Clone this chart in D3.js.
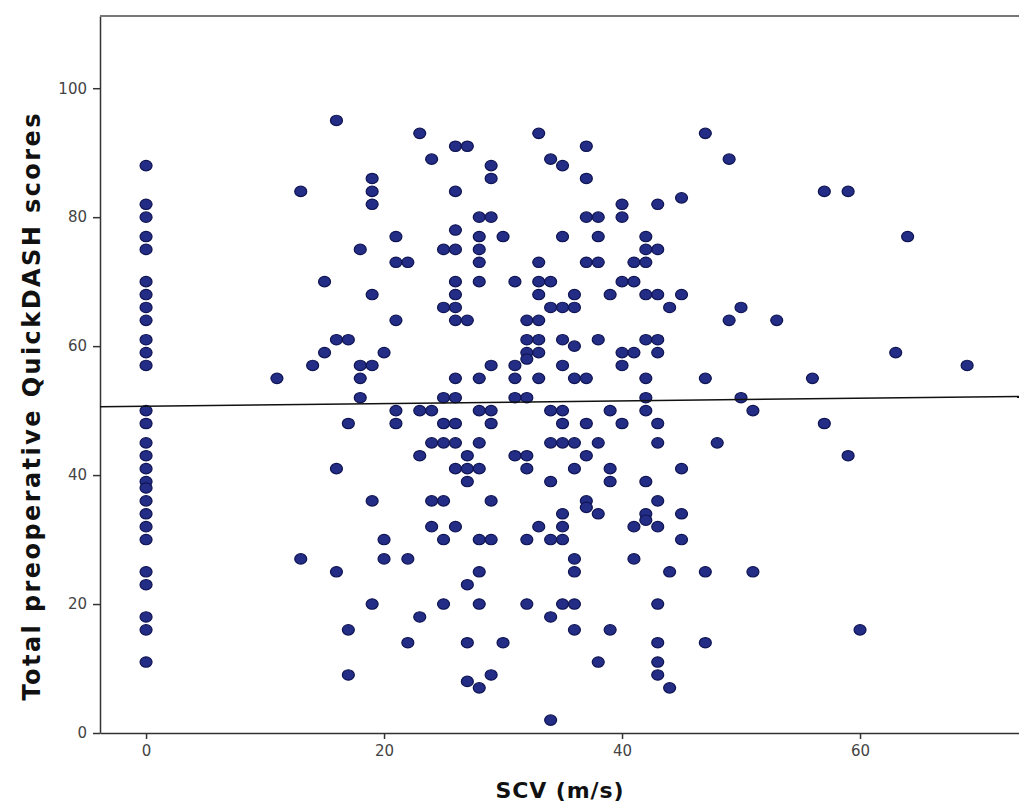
<!DOCTYPE html>
<html>
<head>
<meta charset="utf-8">
<script src="https://cdn.jsdelivr.net/npm/d3@7"></script>
<style>
	body { margin: 0; background: #fff; }
	svg { display: block; }
	.tick text { font-family: "DejaVu Sans", sans-serif; font-size: 15px; fill: #444; }
	.label { font-family: "DejaVu Sans", sans-serif; font-weight: bold; fill: #111; }
</style>
</head>
<body>
<svg id="chart" width="1019" height="809"></svg>
<script>
// SCV value (x) and the QuickDASH scores seen at that value (y)
const scvLevels = [0, 11, 13, 14, 15, 16, 17, 18, 19, 20, 21, 22, 23, 24, 25, 26, 27, 28, 29, 30,
                   31, 32, 33, 34, 35, 36, 37, 38, 39, 40, 41, 42, 43, 44, 45, 47, 48, 49, 50, 51,
                   53, 56, 57, 59, 60, 63, 64, 69];
const scoresAtLevel = [
	[88, 82, 80, 77, 75, 70, 68, 66, 64, 61, 59, 57, 50, 48, 45, 43, 41, 39, 38, 36, 34, 32, 30, 25, 23, 18, 16, 11],
	[55],
	[84, 27],
	[57],
	[70, 59],
	[95, 61, 41, 25],
	[61, 48, 16, 9],
	[75, 57, 55, 52],
	[86, 84, 82, 68, 57, 36, 20],
	[59, 30, 27],
	[77, 73, 64, 50, 48],
	[73, 27, 14],
	[93, 50, 43, 18],
	[89, 50, 45, 36, 32],
	[75, 66, 52, 48, 45, 36, 30, 20],
	[91, 84, 78, 75, 70, 68, 66, 64, 55, 52, 48, 45, 41, 32],
	[91, 64, 43, 41, 39, 23, 14, 8],
	[80, 77, 75, 73, 70, 55, 50, 45, 41, 30, 25, 20, 7],
	[88, 86, 80, 57, 50, 48, 36, 30, 9],
	[77, 14],
	[70, 57, 55, 52, 43],
	[64, 61, 59, 58, 52, 43, 41, 30, 20],
	[93, 73, 70, 68, 64, 61, 59, 55, 32],
	[89, 70, 66, 50, 45, 39, 30, 18, 2],
	[88, 77, 66, 61, 57, 50, 48, 45, 34, 32, 30, 20],
	[68, 66, 60, 55, 45, 41, 27, 25, 20, 16],
	[91, 86, 80, 73, 55, 48, 43, 36, 35],
	[80, 77, 73, 61, 45, 34, 11],
	[68, 50, 41, 39, 16],
	[82, 80, 70, 59, 57, 48],
	[73, 70, 59, 32, 27],
	[77, 75, 73, 68, 61, 55, 52, 50, 39, 34, 33],
	[82, 75, 68, 61, 59, 48, 45, 36, 32, 20, 14, 11, 9],
	[66, 25, 7],
	[83, 68, 41, 34, 30],
	[93, 55, 25, 14],
	[45],
	[89, 64],
	[66, 52],
	[50, 25],
	[64],
	[55],
	[84, 48],
	[84, 43],
	[16],
	[59],
	[77],
	[57]
];
const xTicks = [0, 20, 40, 60];
const yTicks = [0, 20, 40, 60, 80, 100];
// fit line read at the left and right ends of the plot
const fitScv = [-3.87, 73.36];
const fitScore = [50.6, 52.2];

class ScatterPlot {
	constructor(config) {
		this.config = config;
		this.svg = d3.select(config["domElementId"]);
	}

	transform_data() {
		let points = [];
		scvLevels.forEach((scv, i) => {
			scoresAtLevel[i].forEach((score) => { points.push({"scv": scv, "score": score}); });
		});
		this.points = points;
		return this;
	}

	create_axes() {
		let c = this.config;
		this.xScale = d3.scaleLinear().domain(c["xDomain"]).range([c["left"], c["right"]]);
		this.yScale = d3.scaleLinear().domain(c["yDomain"]).range([c["bottom"], c["top"]]);

		this.svg.append("g")
			.attr("transform", `translate(0,${c["bottom"]})`)
			.call(d3.axisBottom(this.xScale).tickValues(xTicks).tickSize(6).tickSizeOuter(0).tickPadding(6))
			.call(g => g.selectAll("line, path").attr("stroke", "#333").attr("stroke-width", 1.5));

		this.svg.append("g")
			.attr("transform", `translate(${c["left"]},0)`)
			.call(d3.axisLeft(this.yScale).tickValues(yTicks).tickSize(7).tickSizeOuter(0).tickPadding(6))
			.call(g => g.selectAll("line, path").attr("stroke", "#333").attr("stroke-width", 1.5));

		// top frame
		this.svg.append("line")
			.attr("x1", c["left"]).attr("x2", c["right"])
			.attr("y1", c["top"]).attr("y2", c["top"])
			.attr("stroke", "#777")
			.attr("stroke-width", 2);

		return this;
	}

	add_axis_labels() {
		let c = this.config;
		this.svg.append("text")
			.attr("class", "label")
			.attr("text-anchor", "middle")
			.attr("x", (c["left"] + c["right"]) / 2)
			.attr("y", 798)
			.style("font-size", "22px")
			.attr("textLength", 128)
			.attr("lengthAdjust", "spacing")
			.text("SCV (m/s)");

		this.svg.append("text")
			.attr("class", "label")
			.attr("text-anchor", "middle")
			.attr("transform", "translate(40,407) rotate(-90)")
			.style("font-size", "24px")
			.attr("textLength", 587)
			.attr("lengthAdjust", "spacing")
			.text("Total preoperative QuickDASH scores");

		return this;
	}

	add_dots() {
		let xScale = this.xScale;
		let yScale = this.yScale;
		this.svg.append("g")
			.selectAll("ellipse")
			.data(this.points)
			.enter()
			.append("ellipse")
			.attr("cx", d => xScale(d.scv))
			.attr("cy", d => yScale(d.score))
			.attr("rx", 6)
			.attr("ry", 5.2)
			.attr("fill", "#232d86")
			.attr("stroke", "#0f1452")
			.attr("stroke-width", 1.2);
		return this;
	}

	add_fit_line() {
		let xScale = this.xScale;
		let yScale = this.yScale;
		this.svg.append("path")
			.datum(fitScv.map((x, i) => [x, fitScore[i]]))
			.attr("fill", "none")
			.attr("stroke", "#111")
			.attr("stroke-width", 1.5)
			.attr("d", d3.line().x(d => xScale(d[0])).y(d => yScale(d[1])));
		return this;
	}

	generate() {
		this.transform_data()
			.create_axes()
			.add_dots()
			.add_fit_line()
			.add_axis_labels();
	}
}

new ScatterPlot({
	"domElementId": "#chart",
	"left": 100, "right": 1019, "top": 16, "bottom": 733,
	"xDomain": [-3.87, 73.36],
	"yDomain": [0, 111.2]
}).generate();
</script>
</body>
</html>
